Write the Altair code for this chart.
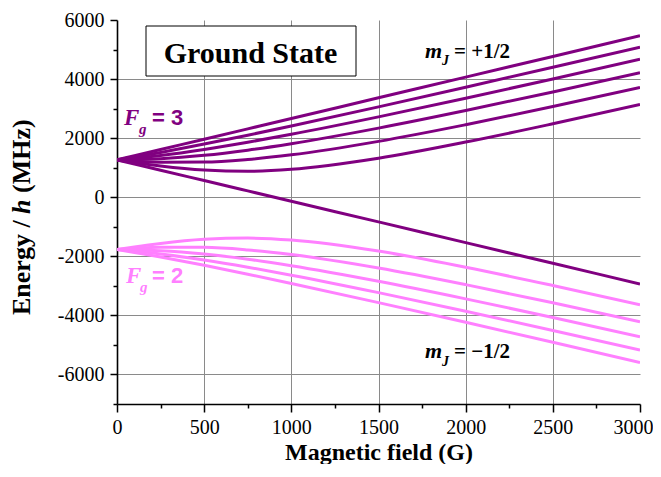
import altair as alt
import pandas as pd

# Magnetic field values (G) at which energies were read
B = [0, 100, 250, 500, 750, 1000, 1500, 2000, 2500, 3000]

# Energies / h (MHz), F_g = 3 manifold (m_F = +3 ... -3)
F3_m3 = [1264.9, 1404.9, 1614.9, 1965.0, 2315.0, 2665.1, 3365.1, 4065.2, 4765.4, 5465.5]
F3_m2 = [1264.9, 1361.6, 1517.6, 1799.2, 2099.2, 2411.6, 3059.0, 3724.4, 4400.0, 5082.0]
F3_m1 = [1264.9, 1317.1, 1414.6, 1618.7, 1861.5, 2131.1, 2721.3, 3351.2, 4003.2, 4668.6]
F3_m0 = [1264.9, 1271.3, 1304.8, 1418.8, 1593.3, 1812.9, 2339.9, 2934.5, 3565.3, 4216.9]
F3_mm1 = [1264.9, 1224.1, 1186.6, 1191.5, 1278.7, 1435.6, 1891.4, 2454.1, 3069.7, 3713.8]
F3_mm2 = [1264.9, 1175.4, 1057.8, 920.8, 879.7, 944.4, 1319.4, 1867.0, 2485.6, 3136.4]
F3_mm3 = [1264.9, 1124.9, 914.8, 564.8, 214.7, -135.3, -835.4, -1535.5, -2235.6, -2935.7]

# Energies / h (MHz), F_g = 2 manifold (m_F = +2 ... -2)
F2_m2 = [-1770.8, -1867.7, -2024.0, -2305.9, -2606.4, -2919.1, -3567.4, -4233.6, -4910.1, -5592.9]
F2_m1 = [-1770.8, -1823.2, -1920.8, -2125.1, -2368.0, -2637.9, -3228.5, -3858.8, -4511.2, -5177.0]
F2_m0 = [-1770.8, -1777.3, -1810.7, -1924.8, -2099.2, -2318.9, -2845.8, -3440.4, -4071.2, -4722.9]
F2_mm1 = [-1770.8, -1730.0, -1692.4, -1697.0, -1784.0, -1940.7, -2396.1, -2958.4, -3573.7, -4217.3]
F2_mm2 = [-1770.8, -1681.2, -1563.3, -1425.9, -1384.4, -1448.7, -1823.0, -2369.8, -2987.4, -3637.4]

curves = [
    ("F3 +3", "F3", F3_m3), ("F3 +2", "F3", F3_m2), ("F3 +1", "F3", F3_m1),
    ("F3 0", "F3", F3_m0), ("F3 -1", "F3", F3_mm1), ("F3 -2", "F3", F3_mm2),
    ("F3 -3", "F3", F3_mm3),
    ("F2 +2", "F2", F2_m2), ("F2 +1", "F2", F2_m1), ("F2 0", "F2", F2_m0),
    ("F2 -1", "F2", F2_mm1), ("F2 -2", "F2", F2_mm2),
]

rows = []
for name, grp, vals in curves:
    for b, e in zip(B, vals):
        rows.append({"B": b, "E": e, "curve": name, "grp": grp})
df = pd.DataFrame(rows)

PURPLE = "#800080"
PINK = "#ff80ff"
SERIF = "Liberation Serif"
SANS = "Liberation Sans"

x_axis = alt.Axis(
    values=list(range(0, 3001, 250)),
    labelExpr="datum.value % 500 === 0 ? '' + datum.value : ''",
    tickSize={"condition": {"test": "datum.value % 500 === 0", "value": 8}, "value": 4},
    gridOpacity={"condition": {"test": "datum.value % 500 === 0 && datum.value > 0 && datum.value < 3000", "value": 1}, "value": 0},
    labelOffset={"condition": {"test": "datum.value === 3000", "value": -7}, "value": 0},
    labelPadding=5,
    labelFlush=False,
    labelOverlap=False,
    labelBound=False,
    title="Magnetic field (G)",
    titleY=55,
    titleBaseline="alphabetic",
)
y_axis = alt.Axis(
    values=list(range(-7000, 6001, 1000)),
    labelExpr="datum.value % 2000 === 0 ? '' + datum.value : ''",
    tickSize={"condition": {"test": "datum.value % 2000 === 0", "value": 7}, "value": 4},
    gridOpacity={"condition": {"test": "datum.value % 2000 === 0 && datum.value < 6000", "value": 1}, "value": 0},
    labelPadding=6,
    labelFlush=False,
    labelOverlap=False,
    title=None,
)

lines = alt.Chart(df).mark_line(strokeWidth=3, interpolate="monotone", clip=True).encode(
    x=alt.X("B:Q", scale=alt.Scale(domain=[0, 3000], nice=False, zero=False), axis=x_axis),
    y=alt.Y("E:Q", scale=alt.Scale(domain=[-7000, 6000], nice=False, zero=False), axis=y_axis),
    color=alt.Color("grp:N", scale=alt.Scale(domain=["F3", "F2"], range=[PURPLE, PINK]), legend=None),
    detail="curve:N",
)

one = pd.DataFrame({"k": [0]})

box = alt.Chart(one).mark_rect(fill="white", stroke="black", strokeWidth=1).encode(
    x=alt.value(29), x2=alt.value(239), y=alt.value(6), y2=alt.value(56)
)


def txt(s, x, y, size, color="black", style="normal", font=SERIF, weight="bold", align="left", angle=0):
    return alt.Chart(one).mark_text(
        text=s, font=font, fontSize=size, fontWeight=weight, fontStyle=style,
        color=color, align=align, baseline="alphabetic", angle=angle,
    ).encode(x=alt.value(x), y=alt.value(y))


texts = [
    # y-axis title, composed so that h is italic
    txt("Energy /", -87, 295, 26, angle=270),
    txt("h", -87, 194, 26, style="italic", angle=270),
    txt("(MHz)", -87, 173, 26, angle=270),
    txt("Ground State", 133.5, 43, 30, align="center"),
    txt("F", 7, 105, 23, PURPLE, "italic"),
    txt("g", 22, 114, 15, PURPLE, "italic"),
    txt("= 3", 35, 105, 22, PURPLE, font=SANS),
    txt("F", 9, 263, 23, PINK, "italic"),
    txt("g", 23, 272, 15, PINK, "italic"),
    txt("= 2", 35, 263, 22, PINK, font=SANS),
    txt("m", 308, 38, 22, "black", "italic"),
    txt("J", 325, 45, 14, "black", "italic"),
    txt("= +1/2", 337, 38, 21),
    txt("m", 308, 338, 22, "black", "italic"),
    txt("J", 325, 346, 14, "black", "italic"),
    txt("= \u22121/2", 337, 338, 21),
]

chart = alt.layer(lines, box, *texts).properties(
    width=523,
    height=384,
    padding={"left": 109, "top": 12, "right": 13, "bottom": 60},
    autosize=alt.AutoSizeParams(type="none"),
).configure_view(stroke=None).configure_axis(
    labelFont=SERIF,
    labelFontSize=20,
    labelColor="black",
    titleFont=SERIF,
    titleFontSize=24,
    titleFontWeight="bold",
    titleColor="black",
    domainColor="black",
    domainWidth=1.6,
    tickColor="black",
    tickWidth=1.5,
    gridColor="#8a8a8a",
    gridWidth=1,
)

chart.save("out.html", embed_options={"renderer": "svg", "actions": False})
